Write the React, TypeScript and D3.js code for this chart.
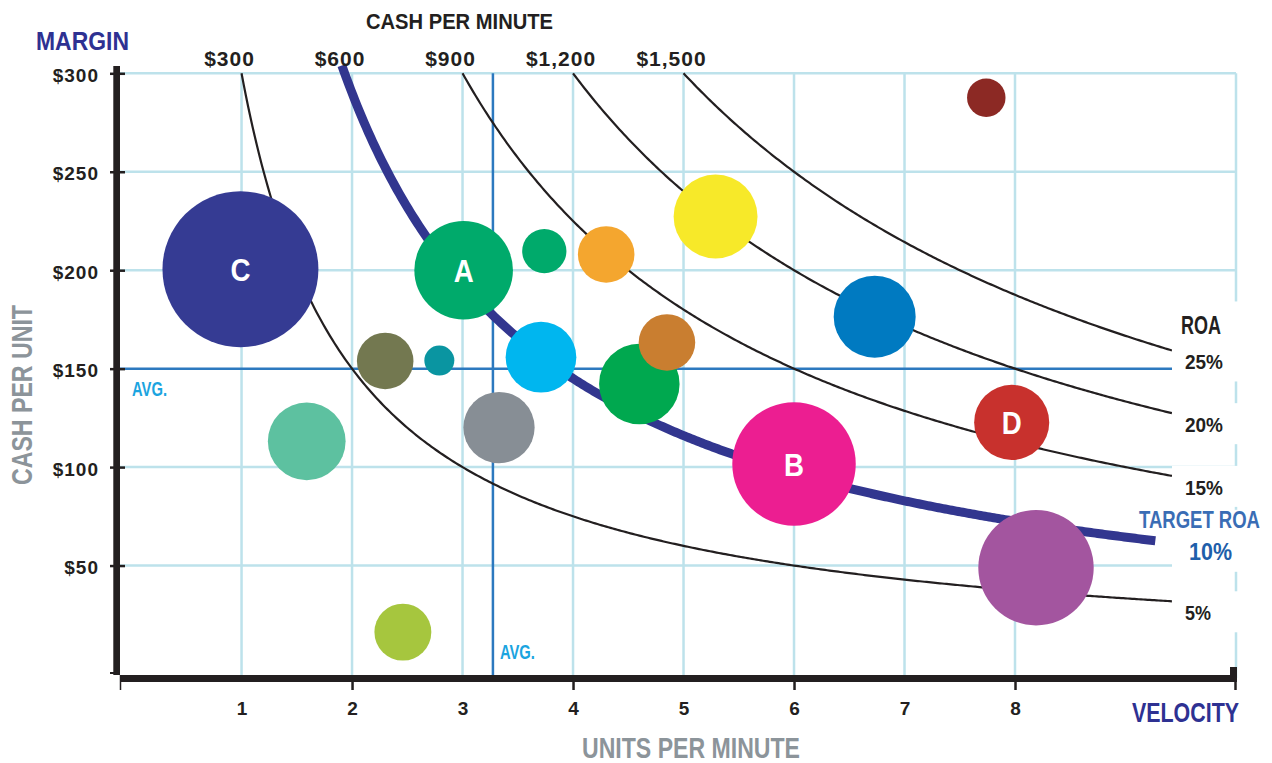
import React, { useEffect, useRef } from 'react';
import * as d3 from 'd3';

// bubbles: units per minute (velocity) vs cash per unit (margin), size = assets
const bubbleLabels = ['C', 'A', '', '', '', '', '', '', '', '', '', '', '', '', 'B', 'D', '', ''];
const unitsPerMinute = [0.99, 3.01, 3.74, 4.3, 5.29, 7.74, 6.73, 2.3, 2.79, 3.71, 4.6, 4.85, 1.59, 3.33, 6.0, 7.97, 8.19, 2.46];
const cashPerUnit = [200.5, 200, 209.7, 208, 227.3, 287.6, 176.4, 153.9, 154.1, 155.8, 142.2, 163.3, 113.1, 120.1, 101.6, 122.7, 48.9, 16.2];
const assets = [60.8, 24.3, 4.9, 8.0, 17.6, 3.7, 16.8, 8.0, 2.25, 12.5, 16.2, 8.0, 15.1, 12.7, 38.1, 14.1, 33.3, 8.1];
const bubbleColors = [
  '#353b93', '#00aa6b', '#00aa6b', '#f4a62f', '#f7e929', '#8c2924', '#007ac1', '#737850', '#0a95a1',
  '#00b6ef', '#00a84f', '#c97e30', '#5dc1a0', '#878e95', '#ec1e91', '#c8312d', '#a3559f', '#a6c63e',
];

// iso-lines of cash per minute (= units x cash per unit)
const cashLevels = [300, 600, 900, 1200, 1500];
// the drawn target curve sits a little under its $600 label
const cashCurves = [300, 580, 900, 1200, 1500];
const cashTickLabels = ['$300', '$600', '$900', '$1,200', '$1,500'];
const roaLabels = ['5%', '10%', '15%', '20%', '25%'];
const targetIndex = 1;

const yTicks = [50, 100, 150, 200, 250, 300];
const xTicks = [1, 2, 3, 4, 5, 6, 7, 8];
const xMajorTicks = [2, 4, 6, 8];
const avgUnits = 3.275;
const avgCash = 150;

const App: React.FC = () => {
  const ref = useRef<SVGSVGElement>(null);

  useEffect(() => {
    if (!ref.current) return;
    const svg = d3.select(ref.current);
    svg.selectAll('*').remove();

    const font = "'Liberation Sans', Arial, sans-serif";
    const ink = '#231f20';
    const navy = '#2e3192';
    const grey = '#8c949a';

    const x = d3.scaleLinear().domain([-0.1, 10]).range([120, 1236]);
    const y = d3.scaleLinear().domain([0, 300]).range([664, 73.3]);
    const r = d3.scaleSqrt().domain([0, 100]).range([0, 100]);
    const axisY = 678;

    const label = (
      t: string,
      xx: number,
      yy: number,
      size: number,
      color: string,
      anchor = 'start',
      len?: number
    ) => {
      const el = svg
        .append('text')
        .attr('x', xx)
        .attr('y', yy)
        .attr('font-size', size)
        .attr('font-weight', 700)
        .attr('font-family', font)
        .attr('fill', color)
        .attr('text-anchor', anchor)
        .text(t);
      if (len) el.attr('textLength', len).attr('lengthAdjust', 'spacingAndGlyphs');
      return el;
    };

    // grid
    const grid = svg.append('g').attr('stroke', '#bde2eb').attr('stroke-width', 2.5);
    grid
      .selectAll('line.v')
      .data([...xTicks, 10])
      .enter()
      .append('line')
      .attr('class', 'v')
      .attr('x1', (d) => x(d))
      .attr('x2', (d) => x(d))
      .attr('y1', y(300))
      .attr('y2', axisY);
    grid
      .selectAll('line.h')
      .data(yTicks.filter((d) => d !== avgCash))
      .enter()
      .append('line')
      .attr('class', 'h')
      .attr('x1', 120)
      .attr('x2', x(10))
      .attr('y1', (d) => y(d))
      .attr('y2', (d) => y(d));

    // averages
    svg
      .append('line')
      .attr('x1', 120)
      .attr('x2', x(10))
      .attr('y1', y(avgCash))
      .attr('y2', y(avgCash))
      .attr('stroke', '#2c79bf')
      .attr('stroke-width', 2.5);
    svg
      .append('line')
      .attr('x1', x(avgUnits))
      .attr('x2', x(avgUnits))
      .attr('y1', y(300))
      .attr('y2', axisY)
      .attr('stroke', '#2c79bf')
      .attr('stroke-width', 2.5);

    // cash per minute curves
    const curve = d3
      .line<[number, number]>()
      .x((d) => x(d[0]))
      .y((d) => y(d[1]));
    const endOf = (i: number) => (i === targetIndex ? 9.27 : 9.42);
    cashCurves.forEach((c, i) => {
      const isTarget = i === targetIndex;
      const u0 = c / (isTarget ? 304 : 300);
      const u1 = endOf(i);
      const pts = d3
        .range(u0, u1, 0.02)
        .concat([u1])
        .map((u) => [u, c / u] as [number, number]);
      svg
        .append('path')
        .attr('d', curve(pts))
        .attr('fill', 'none')
        .attr('stroke', isTarget ? '#32368f' : ink)
        .attr('stroke-width', isTarget ? 9 : 2.2);
    });

    // ROA labels at the right end of each curve (white boxes hide the grid)
    const roaBase = cashCurves.map((c, i) => y(c / endOf(i)) + 19);
    cashCurves.forEach((c, i) => {
      const b = roaBase[i];
      let top = b - 29;
      if (i === cashCurves.length - 1) top = b - 68;
      if (i === targetIndex) top = b - 50;
      svg
        .append('rect')
        .attr('x', 1172)
        .attr('y', top)
        .attr('width', 95)
        .attr('height', b + 12 - top)
        .attr('fill', '#fff');
    });
    cashCurves.forEach((c, i) => {
      const b = roaBase[i];
      if (i === targetIndex) {
        label('TARGET ROA', 1139, b - 32, 24, '#3a6db5', 'start', 121);
        label(roaLabels[i], 1189, b, 24, '#1f5faa', 'start', 43);
      } else {
        label(roaLabels[i], 1185, b, 20, ink, 'start', roaLabels[i].length === 2 ? 26 : 38);
      }
    });
    label('ROA', 1181, roaBase[roaBase.length - 1] - 35, 25, ink, 'start', 40);

    // top cash labels
    cashLevels.forEach((c, i) => {
      label(cashTickLabels[i], x(c / 300) - 12, 66, 21, ink, 'middle').style('letter-spacing', '1px');
    });

    // bubbles
    const order = d3.range(unitsPerMinute.length);
    svg
      .append('g')
      .selectAll('circle')
      .data(order)
      .enter()
      .append('circle')
      .attr('cx', (i) => x(unitsPerMinute[i]))
      .attr('cy', (i) => y(cashPerUnit[i]))
      .attr('r', (i) => r(assets[i]))
      .attr('fill', (i) => bubbleColors[i]);
    order
      .filter((i) => bubbleLabels[i])
      .forEach((i) => {
        label(bubbleLabels[i], x(unitsPerMinute[i]), y(cashPerUnit[i]) + 12, 32, '#fff', 'middle', 20);
      });

    // y axis
    const yAxisG = svg
      .append('g')
      .attr('transform', 'translate(117,0)')
      .call(
        d3
          .axisLeft(y)
          .tickValues(yTicks)
          .tickSize(7)
          .tickPadding(11)
          .tickFormat((d) => `$${d}`)
      );
    yAxisG.select('.domain').remove();
    yAxisG.selectAll('line').attr('stroke', ink).attr('stroke-width', 2.5).attr('x1', 8);
    yAxisG
      .selectAll('text')
      .attr('font-size', 19)
      .attr('font-weight', 700)
      .attr('font-family', font)
      .attr('fill', ink)
      .attr('dy', '0.42em')
      .style('letter-spacing', '1px');
    svg.append('rect').attr('x', 113.3).attr('y', 66).attr('width', 6.7).attr('height', 609).attr('fill', ink);
    svg.append('line').attr('x1', 110).attr('x2', 117).attr('y1', 673).attr('y2', 673).attr('stroke', ink).attr('stroke-width', 2);

    // x axis
    svg.append('rect').attr('x', 120).attr('y', 675).attr('width', 1117).attr('height', 7).attr('fill', ink);
    svg.append('rect').attr('x', 1230).attr('y', 667).attr('width', 7).attr('height', 15).attr('fill', ink);
    svg.append('line').attr('x1', 1235.5).attr('x2', 1235.5).attr('y1', 680).attr('y2', 690).attr('stroke', ink).attr('stroke-width', 2.5);
    svg.append('line').attr('x1', 120.5).attr('x2', 120.5).attr('y1', 675).attr('y2', 690).attr('stroke', ink).attr('stroke-width', 1.5);

    const xLabels = svg
      .append('g')
      .attr('transform', 'translate(0,682)')
      .call(d3.axisBottom(x).tickValues(xTicks).tickSize(0).tickPadding(19.5).tickFormat(d3.format('d')));
    xLabels.select('.domain').remove();
    xLabels
      .selectAll('text')
      .attr('font-size', 19)
      .attr('font-weight', 700)
      .attr('font-family', font)
      .attr('fill', ink);
    const xMarks = svg
      .append('g')
      .attr('transform', 'translate(0,682)')
      .call(d3.axisBottom(x).tickValues(xMajorTicks).tickSize(8).tickFormat(() => ''));
    xMarks.select('.domain').remove();
    xMarks.selectAll('line').attr('stroke', ink).attr('stroke-width', 2.5);

    // avg labels
    label('AVG.', 132, y(avgCash) + 27, 19.5, '#1ba4e0', 'start', 35);
    label('AVG.', x(avgUnits) + 7, 659, 19.5, '#1ba4e0', 'start', 35);

    // titles
    label('MARGIN', 36, 50, 26.5, navy, 'start', 93);
    label('CASH PER MINUTE', 366, 29, 22, ink, 'start', 187);
    label('CASH PER UNIT', 31.5, 395, 30, grey, 'middle', 180).attr('transform', 'rotate(-90, 31.5, 395)');
    label('UNITS PER MINUTE', 691, 758, 29, grey, 'middle', 218);
    label('VELOCITY', 1239, 722, 28.5, navy, 'end', 107);
  }, []);

  return (
    <svg
      ref={ref}
      width={1272}
      height={763}
      style={{ position: 'absolute', left: 0, top: 0, background: '#fff' }}
    />
  );
};

export default App;
